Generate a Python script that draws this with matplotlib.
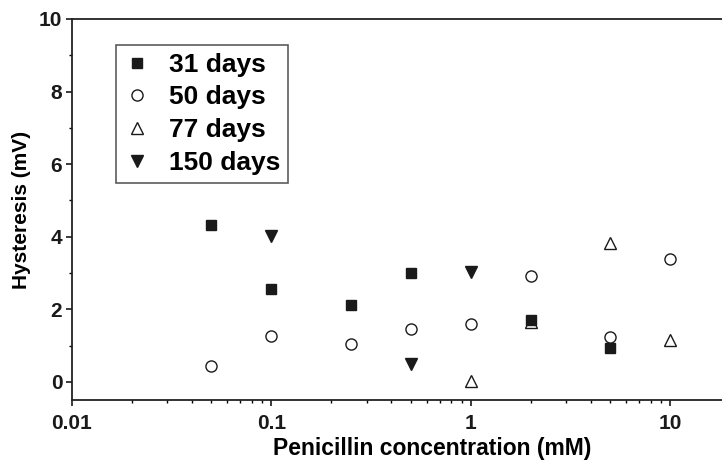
import numpy as np
import matplotlib
matplotlib.use("Agg")
import matplotlib.pyplot as plt
from matplotlib.ticker import LogLocator, FixedLocator, NullFormatter

plt.rcParams['font.family'] = ['Liberation Sans', 'DejaVu Sans']
plt.rcParams['font.weight'] = 'bold'

# Hysteresis (mV) vs penicillin concentration (mM)
conc_31 = [0.05, 0.1, 0.25, 0.5, 2, 5]
hyst_31 = [4.32, 2.56, 2.12, 3.0, 1.72, 0.93]

conc_50 = [0.05, 0.1, 0.25, 0.5, 1, 2, 5, 10]
hyst_50 = [0.44, 1.27, 1.05, 1.45, 1.6, 2.92, 1.25, 3.38]

conc_77 = [1, 2, 5, 10]
hyst_77 = [0.02, 1.65, 3.83, 1.15]

conc_150 = [0.1, 0.5, 1]
hyst_150 = [4.02, 0.5, 3.02]

x_ticks = [0.01, 0.1, 1, 10]
x_labels = ['0.01', '0.1', '1', '10']
y_ticks = [0, 2, 4, 6, 8, 10]


def main():
    fig = plt.figure(figsize=(7.22, 4.61), dpi=100)
    ax = fig.add_axes([0.0997, 0.132, 0.9003, 0.827])

    ax.plot(conc_31, hyst_31, 's', color='#1a1a1a', markersize=7, label='31 days')
    ax.plot(conc_50, hyst_50, 'o', mfc='white', mec='#1a1a1a', mew=1.0,
            markersize=8, label='50 days')
    ax.plot(conc_77, hyst_77, '^', mfc='none', mec='#1a1a1a', mew=1.0,
            markersize=8, label='77 days')
    ax.plot(conc_150, hyst_150, 'v', color='#1a1a1a', markersize=9, label='150 days')

    ax.set_xscale('log')
    ax.set_xlim(0.01, 18.2)
    ax.set_ylim(-0.5, 10)

    ax.spines['right'].set_visible(False)
    for s in ['left', 'bottom', 'top']:
        ax.spines[s].set_linewidth(1.3)
        ax.spines[s].set_color('#222222')

    ax.xaxis.set_major_locator(FixedLocator(x_ticks))
    ax.set_xticklabels(x_labels)
    ax.xaxis.set_minor_locator(LogLocator(base=10, subs=np.arange(2, 10)))
    ax.xaxis.set_minor_formatter(NullFormatter())
    ax.set_yticks(y_ticks)
    ax.yaxis.set_minor_locator(FixedLocator([1, 3, 5, 7, 9]))

    ax.tick_params(axis='both', which='major', labelsize=15, direction='out',
                   length=4, width=1.2, colors='#1a1a1a', pad=3)
    ax.tick_params(axis='both', which='minor', direction='out', length=2, width=1)
    ax.tick_params(axis='x', which='major', pad=6)

    ax.set_xlabel('Penicillin concentration (mM)', fontsize=16.5, fontweight='bold')
    ax.xaxis.set_label_coords(0.554, -0.096)
    ax.set_ylabel('Hysteresis (mV)', fontsize=15, fontweight='bold', labelpad=6)

    leg = ax.legend(loc='upper left', bbox_to_anchor=(0.068, 0.932), fontsize=19,
                    frameon=True, fancybox=False, edgecolor='#333333',
                    handlelength=1.0, handletextpad=0.7, borderpad=0.3,
                    labelspacing=0.33, borderaxespad=0)
    leg.get_frame().set_linewidth(1.2)

    fig.savefig('out.png', dpi=100)


if __name__ == "__main__":
    main()
